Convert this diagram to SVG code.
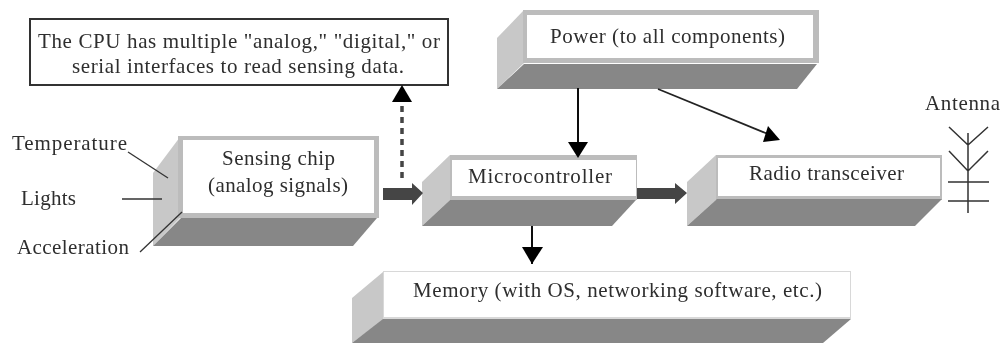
<svg xmlns="http://www.w3.org/2000/svg" width="1007" height="343" viewBox="0 0 1007 343">
<style>
text{font-family:"Liberation Serif","Times New Roman",serif;font-size:21px;fill:#2e2e2e}
.l{fill:#c8c8c8}.b{fill:#878787}.r{fill:#bcbcbc}.f{fill:#fff}
.c{fill:none;stroke:#111;stroke-width:2}
.t{fill:none;stroke:#333;stroke-width:1.3}
</style>
<defs>
<filter id="soft" x="-2%" y="-2%" width="104%" height="104%"><feGaussianBlur stdDeviation="0.6"/></filter>
</defs>
<rect width="1007" height="343" fill="#fff"/>
<g filter="url(#soft)">
<g id="note">
<rect x="30" y="19" width="418" height="66" fill="#fff" stroke="#333" stroke-width="2"/>
<text x="38" y="48" textLength="402">The CPU has multiple "analog,"  "digital,"  or</text>
<text x="72" y="73" textLength="332">serial interfaces to read sensing data.</text>
</g>
<g id="sensing">
<path class="l" d="M153,173L180,137V218L153,246Z"/>
<path class="r" d="M178,136H379V218H178Z"/>
<path class="b" d="M181,218H377L353,246H153Z"/>
<rect class="f" x="183" y="140" width="191" height="73"/>
<text x="222" y="165" textLength="113">Sensing chip</text>
<text x="208" y="192" textLength="140">(analog signals)</text>
</g>
<g id="microcontroller">
<path class="l" d="M422,182L450,155V200L422,226Z"/>
<path class="r" d="M450,155H637V200H450Z"/>
<path class="b" d="M450,200H636L612,226H422Z"/>
<rect class="f" x="452" y="160" width="184" height="36"/>
<text x="468" y="183" textLength="144">Microcontroller</text>
</g>
<g id="radio">
<path class="l" d="M687,182L716,155V200L687,226Z"/>
<path class="r" d="M716,155H942V200H716Z"/>
<path class="b" d="M717,199H942L915,226H687Z"/>
<rect class="f" x="718" y="158" width="222" height="38"/>
<text x="749" y="180" textLength="155">Radio transceiver</text>
</g>
<g id="power">
<path class="l" d="M497,38L524,10V63L497,89Z"/>
<path class="r" d="M523,10H819V63H523Z"/>
<path class="b" d="M524,64H817L797,89H497Z"/>
<rect class="f" x="527" y="15" width="286" height="43"/>
<text x="550" y="43" textLength="235">Power (to all components)</text>
</g>
<g id="memory">
<path class="l" d="M352,298L383,272V320L352,343Z"/>
<path d="M383,271H851V319H383Z" fill="#d8d8d8"/>
<path class="b" d="M383,319H851L823,343H352Z"/>
<rect class="f" x="384" y="272" width="466" height="45"/>
<text x="413" y="297" textLength="409">Memory (with OS, networking software, etc.)</text>
</g>
<g id="connectors">
<path d="M402,178V102" fill="none" stroke="#444" stroke-width="3.5" stroke-dasharray="6 5"/>
<path d="M392,102L402,85L412,102Z" fill="#000"/>
<path class="c" d="M578,88V156"/>
<path d="M568,142H588L578,158Z" fill="#000"/>
<path class="c" d="M532,226V264"/>
<path d="M522,247H543L532,264Z" fill="#000"/>
<path d="M658,89L768,134" fill="none" stroke="#222" stroke-width="1.8"/>
<path d="M768,126L780,140L763,142Z" fill="#000"/>
<path d="M383,188H412V183L423,193L412,205V200H383Z" fill="#444"/>
<path d="M637,188H675V183L687,193L675,204V199H637Z" fill="#444"/>
<path class="t" d="M128,152L168,178"/>
<path class="t" d="M122,199H162"/>
<path class="t" d="M140,252L182,212"/>
<path d="M949,127L968,145L988,127M949,151L968,171L988,151M968,133V213M948,182H989M948,201H989" fill="none" stroke="#333" stroke-width="1.5"/>
</g>
<g id="labels">
<text x="12" y="150" textLength="115">Temperature</text>
<text x="21" y="205" textLength="55">Lights</text>
<text x="17" y="254" textLength="112">Acceleration</text>
<text x="925" y="110" textLength="75">Antenna</text>
</g>
</g>
</svg>
